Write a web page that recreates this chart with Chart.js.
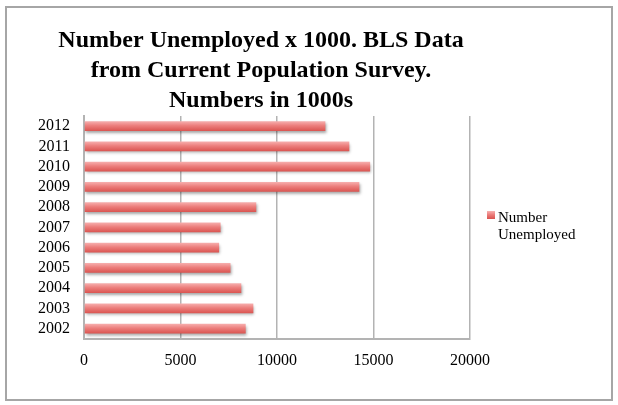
<!DOCTYPE html>
<html>
<head>
<meta charset="utf-8">
<script src="https://cdn.jsdelivr.net/npm/chart.js@4.4.1/dist/chart.umd.min.js"></script>
<style>
  html, body { margin: 0; padding: 0; background: #fff; }
  #wrap { position: relative; width: 618px; height: 405px; }
  #frame { position: absolute; left: 5px; top: 6px; width: 604px; height: 391px; border: 2px solid #a6a6a6; pointer-events: none; }
</style>
</head>
<body>
<div id="wrap">
  <canvas id="chart" width="618" height="405"></canvas>
  <div id="frame"></div>
</div>
<script>
const years = ['2012', '2011', '2010', '2009', '2008', '2007', '2006', '2005', '2004', '2003', '2002'];
const unemployed = [12506, 13747, 14825, 14265, 8924, 7078, 7001, 7591, 8149, 8774, 8378];
const xTicks = [0, 5000, 10000, 15000, 20000];
const seriesName = 'Number Unemployed';
const titleLines = ['Number Unemployed x 1000. BLS Data', 'from Current Population Survey.', 'Numbers in 1000s'];

const serif = "'Liberation Serif', 'DejaVu Serif', serif";

function barGradient(ctx, yTop, yBottom) {
    const g = ctx.createLinearGradient(0, yTop, 0, yBottom);
    g.addColorStop(0, '#f7b1b0');
    g.addColorStop(0.45, '#ec7e7c');
    g.addColorStop(1, '#d9534f');
    return g;
}

// bar drop shadow
const shadowPlugin = {
    id: 'shadow',
    beforeDatasetsDraw(chart) {
        const ctx = chart.ctx;
        ctx.save();
        ctx.shadowColor = 'rgba(0,0,0,0.35)';
        ctx.shadowBlur = 3;
        ctx.shadowOffsetX = 1;
        ctx.shadowOffsetY = 2;
    },
    afterDatasetsDraw(chart) {
        chart.ctx.restore();
    }
};

// right-hand box holding the legend (wrapped text, like the original)
const sideLegend = {
    id: 'sideLegend',
    beforeInit(chart) {
        const box = {
            position: 'right',
            weight: 0,
            fullSize: false,
            options: {},
            left: 0, top: 0, right: 0, bottom: 0, width: 52, height: 0,
            isHorizontal() { return false; },
            update(maxWidth, maxHeight) { this.width = 52; this.height = maxHeight; },
            draw() {
                const ctx = chart.ctx;
                const x = this.left + 17;
                ctx.save();
                ctx.fillStyle = barGradient(ctx, 211, 219);
                ctx.fillRect(x, 211, 8, 8);
                ctx.fillStyle = '#000';
                ctx.font = '15px ' + serif;
                ctx.textBaseline = 'alphabetic';
                const words = chart.data.datasets[0].label.split(' ');
                ctx.fillText(words[0], x + 11, 222);
                ctx.fillText(words[1], x + 11, 239);
                ctx.restore();
            }
        };
        Chart.layouts.addBox(chart, box);
    }
};

new Chart(document.getElementById('chart'), {
    type: 'bar',
    data: {
        labels: years,
        datasets: [{
            label: seriesName,
            data: unemployed,
            backgroundColor: function(context) {
                const chart = context.chart;
                const y = chart.scales && chart.scales.y;
                if (!y || context.dataIndex === undefined) return '#e8706e';
                const c = y.getPixelForValue(context.dataIndex);
                if (!isFinite(c)) return '#e8706e';
                return barGradient(chart.ctx, c - 5, c + 5);
            },
            borderWidth: 0,
            categoryPercentage: 0.9,
            barPercentage: 0.53
        }]
    },
    plugins: [shadowPlugin, sideLegend],
    options: {
        indexAxis: 'y',
        responsive: false,
        animation: false,
        layout: { padding: { left: 0, right: 96, top: 0, bottom: 23 } },
        scales: {
            x: {
                min: 0,
                max: 20000,
                afterBuildTicks: function(scale) {
                    scale.ticks = xTicks.map(v => ({ value: v }));
                },
                grid: { color: '#b3b3b3', lineWidth: 1.5, drawTicks: false },
                border: { color: '#b3b3b3', width: 2 },
                ticks: {
                    color: '#000',
                    font: { family: serif, size: 16 },
                    padding: 12,
                    maxRotation: 0,
                    callback: v => String(v)
                }
            },
            y: {
                afterFit: function(scale) { scale.width = 84; },
                grid: { display: false, drawTicks: false },
                border: { color: '#b3b3b3', width: 2 },
                ticks: { color: '#000', font: { family: serif, size: 16 }, padding: 14, autoSkip: false }
            }
        },
        plugins: {
            legend: { display: false },
            tooltip: { enabled: false },
            title: {
                display: true,
                text: titleLines,
                color: '#000',
                font: { family: serif, size: 24, weight: 'bold', lineHeight: 1.25 },
                padding: { top: 26, bottom: 0 }
            }
        }
    }
});
</script>
</body>
</html>
